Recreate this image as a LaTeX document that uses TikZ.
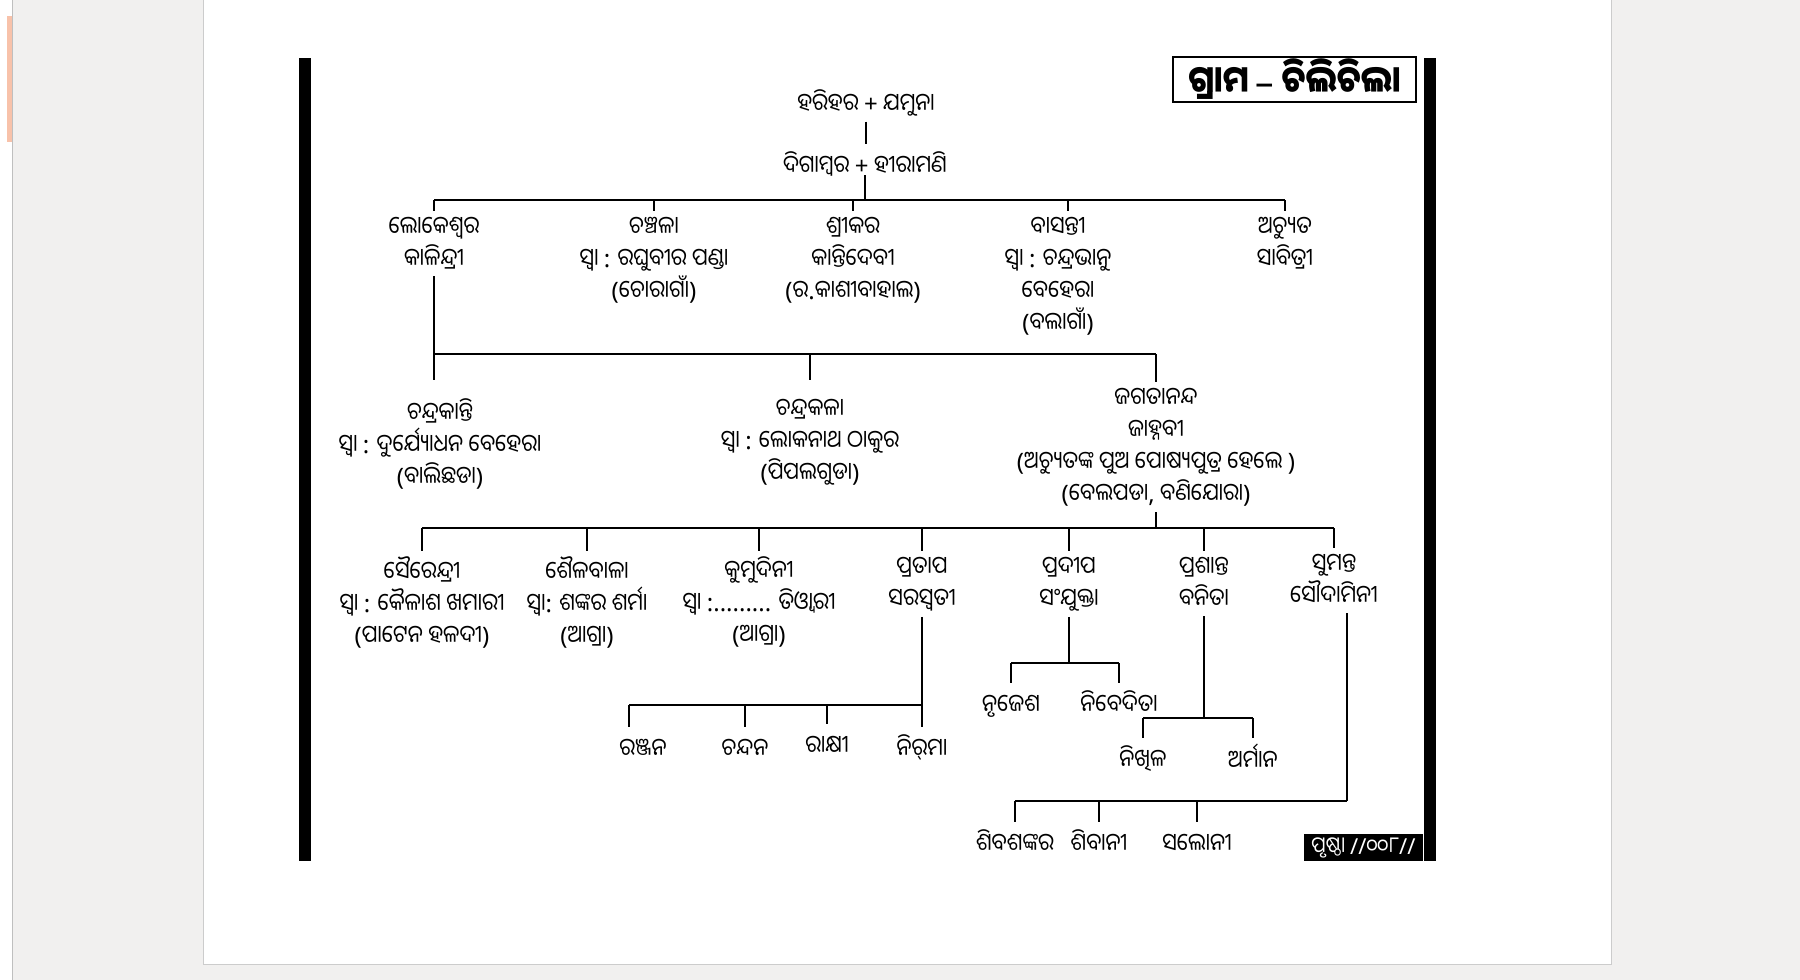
\documentclass[tikz,border=0pt]{standalone}
\usepackage{fontspec}
\newfontfamily\odia[Script=Oriya, FakeStretch=0.88]{Noto Sans Oriya UI}
\newfontfamily\latinfont{Noto Sans}
\definecolor{deskgray}{HTML}{F1F0EF}
\definecolor{tabpeach}{HTML}{F8C2AA}
% Latin signs inside the Odia labels come from Noto Sans
\XeTeXinterchartokenstate=1
\newXeTeXintercharclass\latinsign
\XeTeXcharclass`\(=\latinsign
\XeTeXcharclass`\)=\latinsign
\XeTeXcharclass`\+=\latinsign
\XeTeXcharclass`\:=\latinsign
\XeTeXcharclass`\,=\latinsign
\XeTeXcharclass`\.=\latinsign
\XeTeXcharclass`\/=\latinsign
\XeTeXcharclass`\-=\latinsign
\XeTeXcharclass"2013=\latinsign
\XeTeXinterchartoks 0 \latinsign = {\begingroup\latinfont}
\XeTeXinterchartoks 4095 \latinsign = {\begingroup\latinfont}
\XeTeXinterchartoks \latinsign 0 = {\endgroup}
\XeTeXinterchartoks \latinsign 4095 = {\endgroup}

\begin{document}
\begin{tikzpicture}[x=1pt, y=-1pt,
    person/.style={align=center, inner sep=0pt, outer sep=6pt, anchor=north,
      font=\odia\fontsize{24}{32}\selectfont,
      execute at begin node={\rule{0pt}{24pt}},
      execute at end node={\rule[-3pt]{0pt}{3pt}}},
    link/.style={line width=2pt}
]
\useasboundingbox (0,0) rectangle (1800,980);

% screen and page
\fill[deskgray] (0,0) rectangle (1800,980);
\fill[white] (0,0) rectangle (12,980);
\draw[gray!50, line width=1pt] (12,0) -- (12,980);
\fill[tabpeach] (7,16) rectangle (12,142);
\fill[white] (204,0) rectangle (1611,964);
\draw[gray!40, line width=1pt] (203.5,0) -- (203.5,964.5) -- (1611.5,964.5) -- (1611.5,0);

% thick side rules
\fill (299,58) rectangle (311,861);
\fill (1424,58) rectangle (1436,861);

% village name and page number
\node[draw, line width=1.5pt, inner sep=0pt, minimum width=243pt, minimum height=45pt,
  font=\odia\bfseries\fontsize{37}{40}\selectfont] (village) at (1294.5,79.5) {ଗ୍ରାମ – ଚିଲିଚିଲା};
\node[fill=black, text=white, inner sep=0pt, minimum width=119pt, minimum height=27pt,
  font=\odia\fontsize{22}{22}\selectfont] (pageno) at (1363.5,847.5) {ପୃଷ୍ଠା //୦୦୮//};

% root couples
\node[person] (hari) at (866,82) {ହରିହର + ଯମୁନା};
\node[person] (diga) at (865,144) {ଦିଗାମ୍ବର + ହୀରାମଣି};
\draw[link] (hari.south) -- (hari.south |- diga.north);

% first generation
\node[person] (loke) at (434,211) {ଲୋକେଶ୍ୱର\\କାଳିନ୍ଦ୍ରୀ};
\node[person] (chan) at (654,211) {ଚଞ୍ଚଳା\\ସ୍ୱା : ରଘୁବୀର ପଣ୍ଡା\\(ଚୋରାଗାଁ)};
\node[person] (srik) at (853,211) {ଶ୍ରୀକର\\କାନ୍ତିଦେବୀ\\(ର.କାଶୀବାହାଲ)};
\node[person] (basa) at (1058,211) {ବାସନ୍ତୀ\\ସ୍ୱା : ଚନ୍ଦ୍ରଭାନୁ\\ବେହେରା\\(ବଲାଗାଁ)};
\node[person] (achy) at (1285,211) {ଅଚ୍ୟୁତ\\ସାବିତ୍ରୀ};

\coordinate (gen1) at (0,200);
\draw[link, shorten <=-8pt] (diga.south) -- (diga.south |- gen1);
\draw[link] (loke.north |- gen1) -- (achy.north |- gen1);
\foreach \n in {loke,chan,srik,achy}
  \draw[link] (\n.north |- gen1) -- (\n.north);
\draw[link] ([xshift=10pt]basa.north |- gen1) -- ([xshift=10pt]basa.north);

% second generation
\node[person, outer ysep=19pt] (ckan) at (440,380) {ଚନ୍ଦ୍ରକାନ୍ତି\\ସ୍ୱା : ଦୁର୍ଯ୍ୟୋଧନ ବେହେରା\\(ବାଲିଛଡା)};
\node[person, outer ysep=19pt] (ckal) at (810,380) {ଚନ୍ଦ୍ରକଳା\\ସ୍ୱା : ଲୋକନାଥ ଠାକୁର\\(ପିପଲଗୁଡା)};
\node[person] (jaga) at (1156,382) {ଜଗତାନନ୍ଦ\\ଜାହ୍ନବୀ\\(ଅଚ୍ୟୁତଙ୍କ ପୁଅ ପୋଷ୍ୟପୁତ୍ର ହେଲେ )\\(ବେଲପଡା, ବଣିଯୋରା)};

\coordinate (gen2) at (0,354);
\draw[link] (loke.south) -- (loke.south |- ckan.north);
\draw[link] (loke.south |- gen2) -- (jaga.north |- gen2);
\foreach \n in {ckal,jaga}
  \draw[link] (\n.north |- gen2) -- (\n.north);

% third generation
\node[person] (sair) at (422,551) {ସୈରେନ୍ଦ୍ରୀ\\ସ୍ୱା : କୈଳାଶ ଖମାରୀ\\(ପାଟେନ ହଳଦୀ)};
\node[person] (shai) at (587,551) {ଶୈଳବାଳା\\ସ୍ୱା: ଶଙ୍କର ଶର୍ମା\\(ଆଗ୍ରା)};
\node[person] (kumu) at (759,551) {କୁମୁଦିନୀ\\ସ୍ୱା :......... ତିଓ୍ୱାରୀ\\(ଆଗ୍ରା)};
\node[person] (prat) at (922,551) {ପ୍ରତାପ\\ସରସ୍ୱତୀ};
\node[person] (prad) at (1069,551) {ପ୍ରଦୀପ\\ସଂଯୁକ୍ତା};
\node[person] (pras) at (1204,551) {ପ୍ରଶାନ୍ତ\\ବନିତା};
\node[person] (sume) at (1334,548) {ସୁମନ୍ତ\\ସୌଦାମିନୀ};

\coordinate (gen3) at (0,528);
\draw[link] (jaga.south) -- (jaga.south |- gen3);
\draw[link] (sair.north |- gen3) -- (sume.north |- gen3);
\foreach \n in {sair,shai,kumu,prat,prad,pras,sume}
  \draw[link] (\n.north |- gen3) -- (\n.north);

% Pratap's children
\node[person] (ranj) at (643,727) {ରଞ୍ଜନ};
\node[person] (chnd) at (745,727) {ଚନ୍ଦନ};
\node[person] (raks) at (827,724) {ରାକ୍ଷୀ};
\node[person] (nirm) at (922,727) {ନିର୍‌ମା};

\coordinate (gen4a) at (0,705);
\draw[link] (prat.south) -- (nirm.north);
\draw[link] ([xshift=-14pt]ranj.north |- gen4a) -- (nirm.north |- gen4a);
\draw[link] ([xshift=-14pt]ranj.north |- gen4a) -- ([xshift=-14pt]ranj.north);
\foreach \n in {chnd,raks}
  \draw[link] (\n.north |- gen4a) -- (\n.north);

% Pradip's children
\node[person] (nrje) at (1011,683) {ନୃଜେଶ};
\node[person] (nibe) at (1119,683) {ନିବେଦିତା};

\coordinate (gen4b) at (0,663);
\draw[link] (prad.south) -- (prad.south |- gen4b);
\draw[link] (nrje.north |- gen4b) -- (nibe.north |- gen4b);
\foreach \n in {nrje,nibe}
  \draw[link] (\n.north |- gen4b) -- (\n.north);

% Prashant's children
\node[person] (nikh) at (1143,738) {ନିଖିଳ};
\node[person] (arma) at (1253,738) {ଅର୍ମାନ};

\coordinate (gen4c) at (0,718);
\draw[link] (pras.south) -- (pras.south |- gen4c);
\draw[link] (nikh.north |- gen4c) -- (arma.north |- gen4c);
\foreach \n in {nikh,arma}
  \draw[link] (\n.north |- gen4c) -- (\n.north);

% Sumant's children
\node[person] (shsh) at (1015,822) {ଶିବଶଙ୍କର};
\node[person] (shiv) at (1099,822) {ଶିବାନୀ};
\node[person] (salo) at (1197,822) {ସଲୋନୀ};

\coordinate (gen4d) at (0,801);
\draw[link] ([xshift=13pt]sume.south) -- ([xshift=13pt]sume.south |- gen4d);
\draw[link] (shsh.north |- gen4d) -- ([xshift=13pt]sume.south |- gen4d);
\foreach \n in {shsh,shiv,salo}
  \draw[link] (\n.north |- gen4d) -- (\n.north);

\end{tikzpicture}
\end{document}
